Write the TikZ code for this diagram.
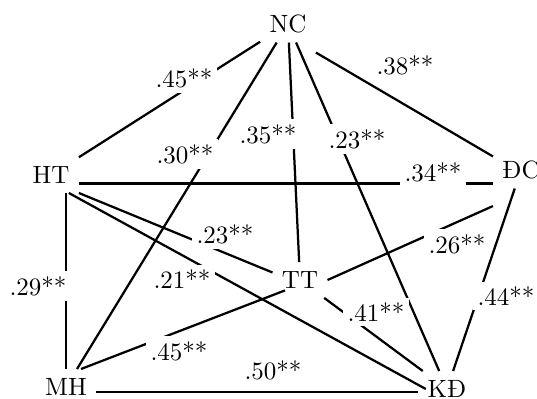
\documentclass[tikz,border=0pt]{standalone}
\begin{document}
\begin{tikzpicture}[x=0.4pt,y=-0.4pt,line width=0.9pt,coef/.style={fill=white,inner sep=2pt}]
  \useasboundingbox (0,0) rectangle (537,398);
  \node (NC) at (288,24){NC};
  \node (HT) at (51,175){HT};
  \node (DC) at (521,170){ĐC};
  \node (TT) at (300,280){TT};
  \node (MH) at (66,387){MH};
  \node (KD) at (447,389){KĐ};
  \draw (NC)--(HT);
  \draw (NC)--(MH);
  \draw (NC)--(TT);
  \draw (NC)--(KD);
  \draw ([yshift=-4pt]NC.south east)--([yshift=-2pt]DC.north west);
  \draw (HT.base east)--(HT.base east -| DC.west);
  \draw (HT.south east)--([yshift=3pt]TT.west);
  \draw ([xshift=-4pt]HT.south east)--([xshift=3pt]KD.west);
  \draw (MH.north)--(MH.north |- HT.south);
  \draw (TT.east)--([yshift=-7pt]DC.south west);
  \draw ([xshift=6pt]MH.north)--([xshift=5pt,yshift=3pt]TT.south west);
  \draw (TT)--(KD);
  \draw (DC)--(KD);
  \draw ([yshift=-2pt]MH.east)--([yshift=-2pt]MH.east -| KD.west);
  \node[coef] (nc-ht) at (184,78){.45**};
  \node[coef] (nc-mh) at (185,154){.30**};
  \node[coef] (nc-tt) at (268,134){.35**};
  \node[coef] (nc-kd) at (357,139){.23**};
  \node[coef] (nc-dc) at (405,65){.38**};
  \node[coef] (ht-dc) at (433,172){.34**};
  \node[coef] (ht-tt) at (225,234){.23**};
  \node[coef] (ht-kd) at (182,279){.21**};
  \node[coef] (ht-mh) at (38,286){.29**};
  \node[coef] (tt-dc) at (457,244){.26**};
  \node[coef] (mh-tt) at (179,351){.45**};
  \node[coef] (tt-kd) at (376,312){.41**};
  \node[coef] (dc-kd) at (506,296){.44**};
  \node[coef] (mh-kd) at (273,370){.50**};
\end{tikzpicture}
\end{document}
